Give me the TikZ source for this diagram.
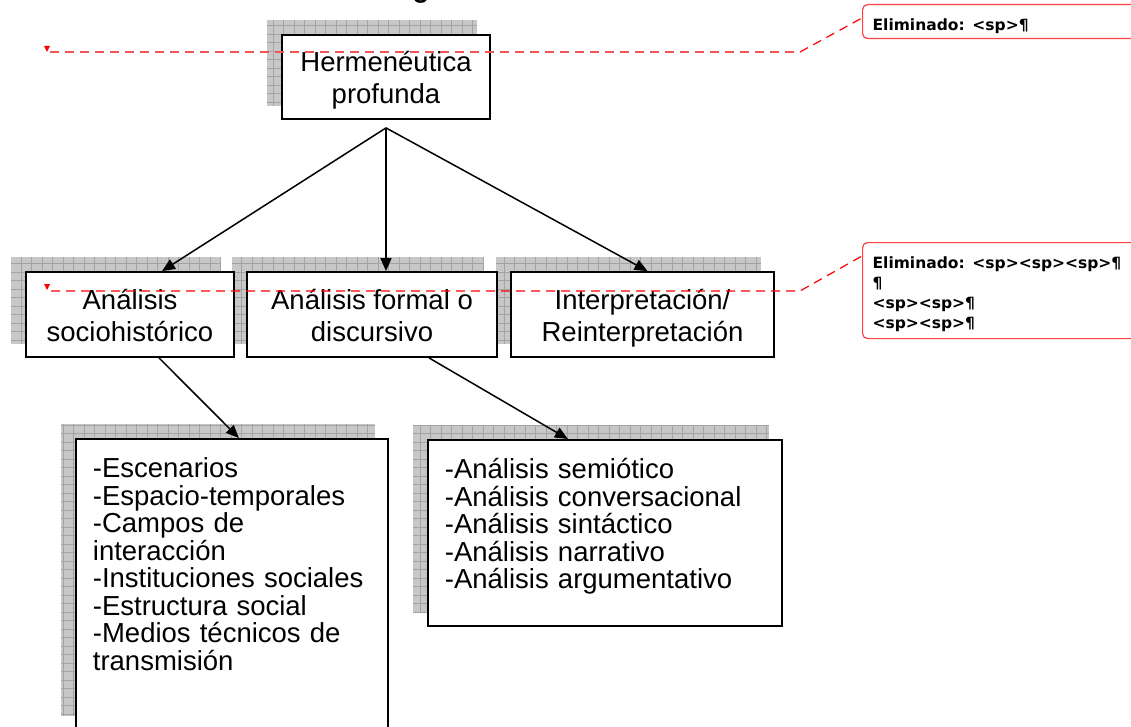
\documentclass[tikz,border=0pt]{standalone}
\usepackage{fontspec}
\setmainfont{Liberation Sans}
\newfontfamily\notafont{DejaVu Sans}
\usetikzlibrary{arrows.meta}
\usetikzlibrary{backgrounds}
\definecolor{rojotenue}{RGB}{238,85,85}

\begin{document}
\begin{tikzpicture}[x=1pt,y=-1pt,>={Triangle[length=13pt,width=11pt]}]
    \tikzstyle{caja}=[rectangle, draw, line width=1.8pt, fill=white, inner sep=0pt]
    \tikzstyle{titulo caja}=[caja, align=center, text height=60pt, text depth=6pt, font=\fontsize{27.5}{32}\selectfont]
    \tikzstyle{lista}=[caja, anchor=north west, align=left, inner xsep=17pt, font=\fontsize{27.5}{27.5}\selectfont]
    \tikzstyle{flecha}=[->, line width=1.5pt]
    \tikzstyle{sombra}=[fill=black!22]
    \tikzstyle{rejilla}=[draw=black!36, line width=0.6pt, xstep=10.5pt, ystep=8.5pt]
    \tikzstyle{nota}=[rectangle, draw=red!75, line width=1.2pt, rounded corners=5pt, fill=white, anchor=north west, align=left, inner xsep=10pt, inner ysep=0pt, text width=270pt, font=\notafont\bfseries\fontsize{15.5}{20}\selectfont]
    \tikzstyle{cambio}=[dash pattern=on 9pt off 6pt, line width=1.2pt]
    \useasboundingbox (0,0) rectangle (1131,727);

    \node[anchor=base, inner sep=0pt, font=\bfseries\fontsize{27.5}{27.5}\selectfont] (titulo) at (421,-2) {g};

    \node[titulo caja, minimum width=208pt, minimum height=84pt] (herm) at (386,77) {Hermenéutica\\profunda};
    \node[titulo caja, minimum width=208pt, minimum height=85pt] (socio) at (130,314.5) {Análisis\\sociohistórico};
    \node[titulo caja, minimum width=250pt, minimum height=85pt] (formal) at (372,314.5) {Análisis formal o\\discursivo};
    \node[titulo caja, minimum width=263pt, minimum height=85pt] (interp) at (642.5,314.5) {Interpretación/\\Reinterpretación};

    \node[lista, text width=278pt, text height=39pt, text depth=251pt] (esc) at (75,438)
      {-Escenarios\\-Espacio-temporales\\-Campos de\\interacción\\-Instituciones sociales\\-Estructura social\\-Medios técnicos de\\transmisión};
    \node[lista, text width=320pt, text height=39pt, text depth=147pt] (semi) at (427,439)
      {-Análisis semiótico\\-Análisis conversacional\\-Análisis sintáctico\\-Análisis narrativo\\-Análisis argumentativo};

    % sombras cuadriculadas
    \begin{pgfonlayer}{background}
      \foreach \c in {herm,socio,formal,interp,esc,semi}{
        \path[sombra] ([shift={(-14,-14)}]\c.north west) rectangle ([shift={(-14,-14)}]\c.south east);
        \path[rejilla] ([shift={(-14,-14)}]\c.north west) grid ([shift={(-14,-14)}]\c.south east);
      }
    \end{pgfonlayer}

    \coordinate (vertice) at ([shift={(0,8)}]herm.south);
    \draw[flecha] (vertice) -- ([shift={(32,0)}]socio.north);
    \draw[flecha] (vertice) -- (formal.north -| vertice);
    \draw[flecha] (vertice) -- ([shift={(5,0)}]interp.north);
    \draw[flecha] ([shift={(29,0)}]socio.south) -- ([shift={(7,0)}]esc.north);
    \draw[flecha] ([shift={(57,0)}]formal.south) -- ([shift={(-37,0)}]semi.north);

    % globos de cambios
    \node[nota, text height=25.5pt, text depth=8.5pt] (nota1) at (862,4) {Eliminado: <sp>¶};
    \node[nota, text height=25.5pt, text depth=70.5pt] (nota2) at (862,242)
      {Eliminado: <sp><sp><sp>¶\\¶\\<sp><sp>¶\\<sp><sp>¶};

    \coordinate (marca1) at (50,52);
    \coordinate (codo1) at (800,52);
    \draw[cambio, draw=rojotenue] (marca1) -- (codo1);
    \draw[cambio, draw=red] (codo1) -- ([shift={(0,14)}]nota1.north west);
    \fill[red] ([shift={(-6,-6)}]marca1) -- ++(6,0) -- ++(-3,6) -- cycle;

    \coordinate (marca2) at (51,291);
    \coordinate (codo2) at (800,291);
    \draw[cambio, draw=red] (marca2) -- (codo2) -- ([shift={(0,14)}]nota2.north west);
    \fill[red] ([shift={(-7,-7)}]marca2) -- ++(6,0) -- ++(-3,6) -- cycle;
\end{tikzpicture}
\end{document}
